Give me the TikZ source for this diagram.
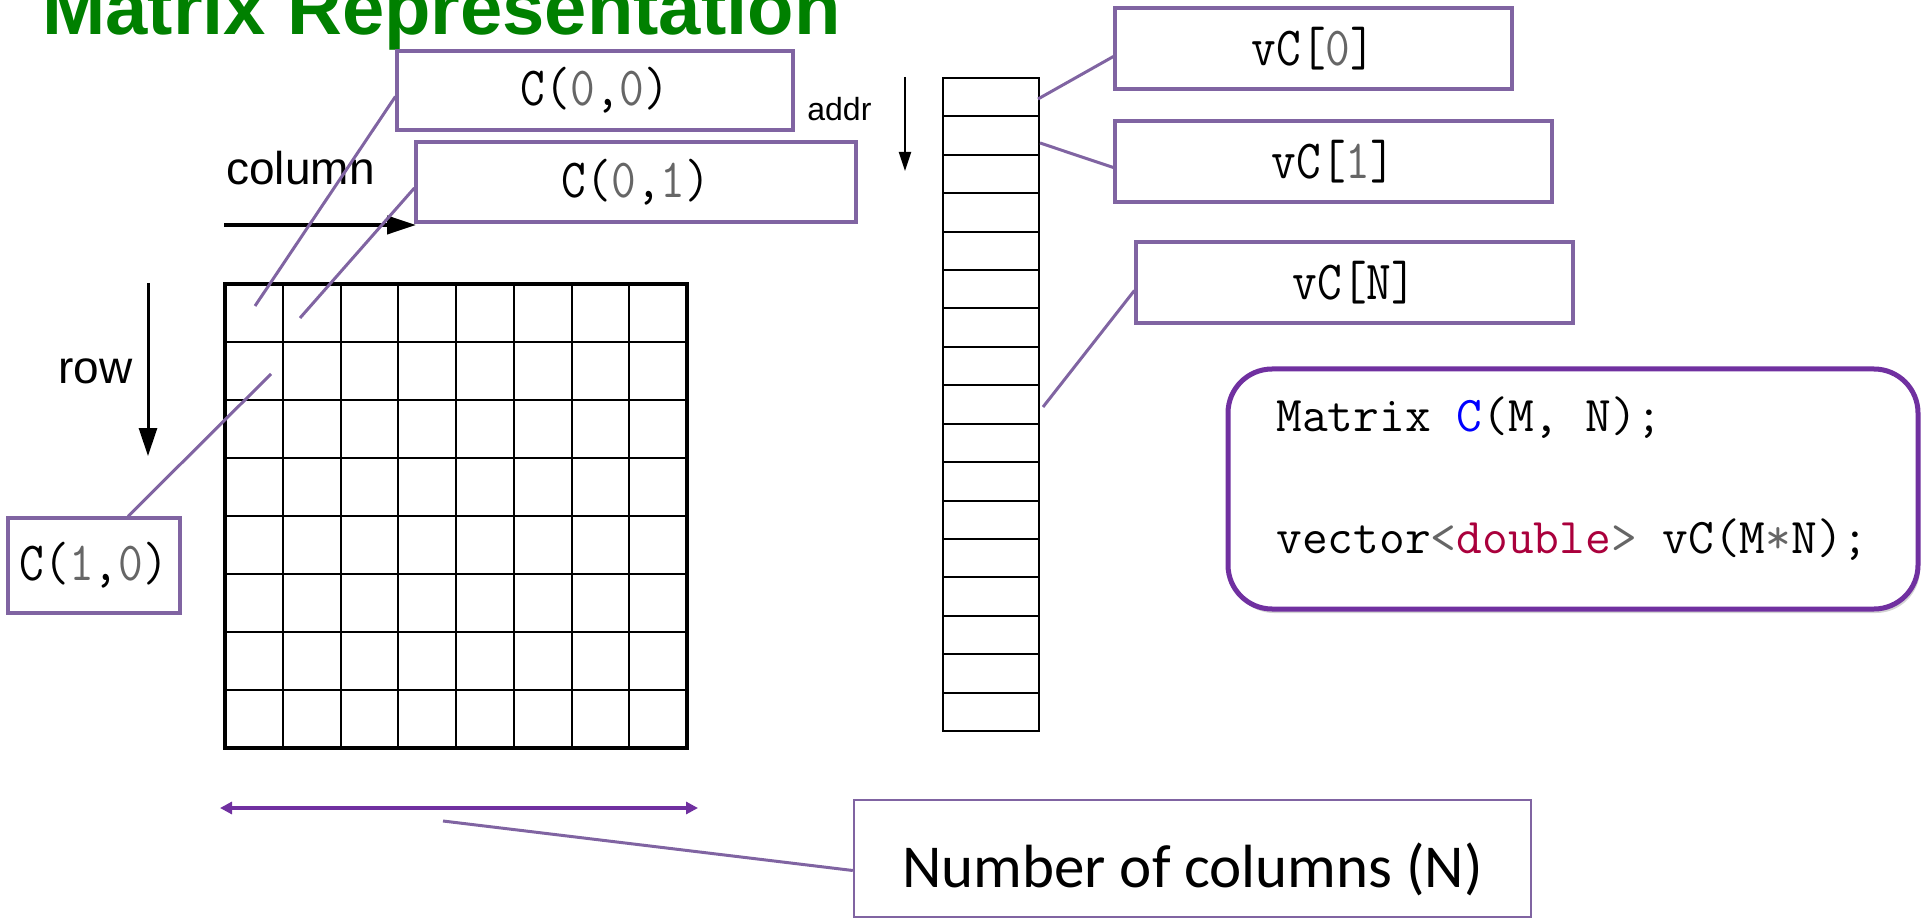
\documentclass[tikz,border=0pt]{standalone}
\usepackage{graphicx}
\usepackage{fontspec}
\newfontfamily\arialfont{Liberation Sans}
\newfontfamily\calibrifont{Carlito}
\usetikzlibrary{arrows.meta,shadows}
\definecolor{calloutpurple}{RGB}{128,100,162}
\definecolor{codepurple}{RGB}{112,48,160}
\definecolor{titlegreen}{RGB}{0,128,0}
\definecolor{numgray}{RGB}{102,102,102}
\definecolor{keyred}{RGB}{170,0,60}
\newcommand{\gd}[1]{\textcolor{numgray}{#1}}
\newcommand{\tall}[1]{\scalebox{1}[1.15]{#1}}

\begin{document}
\begin{tikzpicture}[x=0.5pt,y=-0.5pt,
	cbox/.style={draw=calloutpurple,line width=1.6pt,inner sep=0pt,font=\ttfamily\fontsize{24}{28}\selectfont},
	callout/.style={draw=calloutpurple,line width=1.5pt},
	thinline/.style={line width=1pt},
	sanslbl/.style={font=\arialfont\fontsize{23}{26}\selectfont}]
	\useasboundingbox (0,0) rectangle (1921,919);
	\node[anchor=base west,inner sep=0pt,text=titlegreen,font=\arialfont\bfseries\fontsize{38}{40}\selectfont] (title) at (42,35) {Matrix Representation};

	% matrix C
	\foreach \i in {1,...,7} {
		\draw[thinline] ({225+\i*57.75},284) -- ({225+\i*57.75},748);
		\draw[thinline] (225,{284+\i*58}) -- (687,{284+\i*58});
	}
	\draw[line width=2.25pt] (225,284) rectangle (687,748);

	% vector vC
	\draw[thinline] (943,78) rectangle (1039,731);
	\foreach \k in {1,...,16}
		\draw[thinline] (943,{78+\k*38.41}) -- (1039,{78+\k*38.41});

	% direction arrows
	\coordinate (rowtop) at (148,283);
	\coordinate (rowend) at (148,456);
	\draw[line width=1.5pt,-{Triangle[length=14pt,width=9pt]}] (rowtop) -- (rowend);
	\node[sanslbl,anchor=base east,inner sep=0pt] (rowlbl) at (133,384) {row};
	\coordinate (coltop) at (224,225);
	\coordinate (colend) at (416,225);
	\draw[line width=2pt,-{Triangle[length=14.5pt,width=9pt]}] (coltop) -- (colend);
	\node[sanslbl,anchor=base west,inner sep=0pt] (collbl) at (226,185) {column};
	\coordinate (addrtop) at (905,77);
	\coordinate (addrend) at (905,171);
	\draw[line width=1pt,-{Triangle[length=9.5pt,width=6pt]}] (addrtop) -- (addrend);
	\node[anchor=base west,inner sep=0pt,font=\arialfont\fontsize{16}{18}\selectfont] (addrlbl) at (807,121) {addr};

	% callout boxes
	\node[cbox,minimum width=198pt,minimum height=39.5pt] (c00) at (595,90.5) {\tall{C(\gd{0},\gd{0})}};
	\node[cbox,minimum width=220pt,minimum height=40pt] (c01) at (636,182) {\tall{C(\gd{0},\gd{1})}};
	\node[cbox,minimum width=86pt,minimum height=47.5pt] (c10) at (94,565.5) {\tall{C(\gd{1},\gd{0})}};
	\node[cbox,minimum width=198.5pt,minimum height=40.5pt] (vc0) at (1313.5,48.5) {\tall{vC[\gd{0}]}};
	\node[cbox,minimum width=218.5pt,minimum height=40.5pt] (vc1) at (1333.5,161.5) {\tall{vC[\gd{1}]}};
	\node[cbox,minimum width=218.5pt,minimum height=40.5pt] (vcN) at (1354.5,282.5) {\tall{vC[N]}};
	\node[draw=calloutpurple,line width=1.2pt,minimum width=338.5pt,minimum height=58.5pt,font=\calibrifont\fontsize{30.5}{34}\selectfont] (ncol) at (1192.5,858.5) {\raisebox{-5.5pt}[\height][\depth]{Number of columns (N)}};

	\coordinate (p00) at (255,306);
	\coordinate (p01) at (300,318);
	\coordinate (p10) at (271,374);
	\coordinate (q0) at (1038,99);
	\coordinate (q1) at (1040,143);
	\coordinate (qN) at (1043,407);
	\coordinate (nmid) at (443,821);
	\draw[callout] ([yshift=-3pt]c00.west) -- (p00);
	\draw[callout] ([yshift=-3pt]c01.west) -- (p01);
	\draw[callout] ([xshift=17pt]c10.north) -- (p10);
	\draw[callout] ([yshift=-4pt]vc0.west) -- (q0);
	\draw[callout] ([yshift=-3pt]vc1.west) -- (q1);
	\draw[callout] ([yshift=-4pt]vcN.west) -- (qN);
	\draw[callout] ([yshift=-6pt]ncol.west) -- (nmid);

	% width of the matrix
	\coordinate (nleft) at (220,808);
	\coordinate (nright) at (698,808);
	\draw[codepurple,line width=2pt,{Triangle[length=6pt,width=6pt]}-{Triangle[length=6pt,width=6pt]}] (nleft) -- (nright);

	% code
	\node[draw=codepurple,fill=white,line width=2.5pt,rounded corners=22pt,minimum width=345pt,minimum height=120pt,
		drop shadow={shadow xshift=1pt,shadow yshift=-2pt,opacity=0.35}] (codebox) at (1573,489) {};
	\node[anchor=base west,inner sep=0pt,font=\ttfamily\fontsize{25}{28}\selectfont] (code1) at (1276,431) {Matrix \textcolor{blue}{C}(M, N);};
	\node[anchor=base west,inner sep=0pt,font=\ttfamily\fontsize{25}{28}\selectfont] (code2) at (1276,553) {vector\gd{<}\textcolor{keyred}{double}\gd{>} vC(M\gd{*}N);};
\end{tikzpicture}
\end{document}
